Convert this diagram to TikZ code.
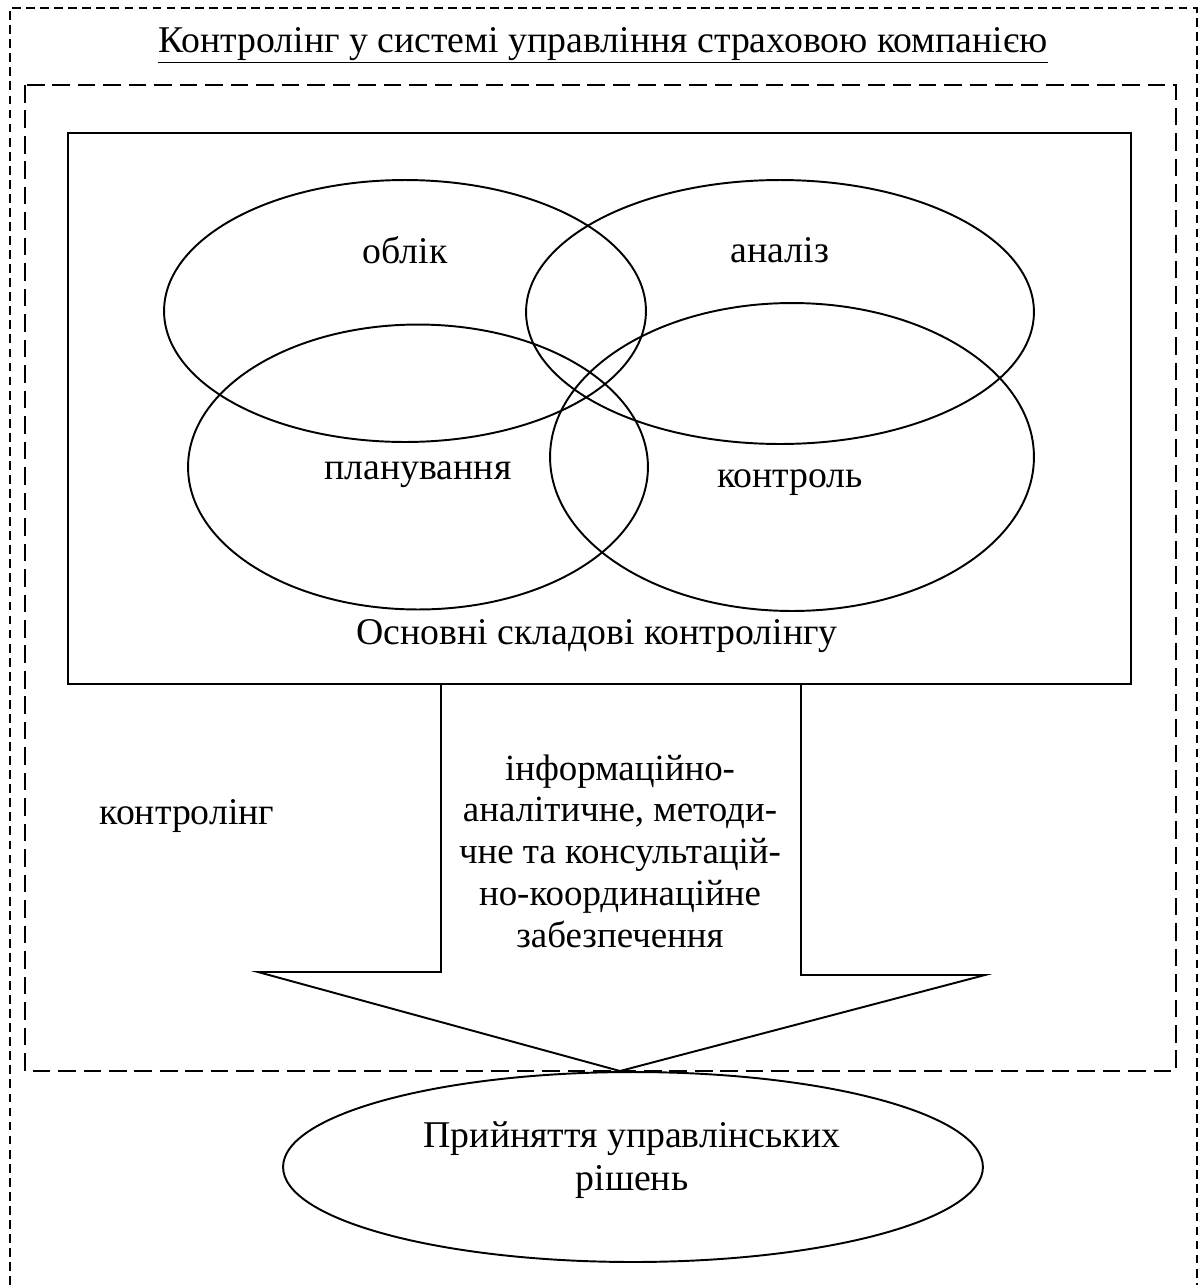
\documentclass[tikz,border=0pt]{standalone}
\usepackage{fontspec}
\setmainfont{Liberation Serif}
\usetikzlibrary{shapes.geometric, positioning}

\begin{document}
\begin{tikzpicture}[
    x=0.02cm, y=-0.02cm,
    font=\fontsize{21.5}{24.5}\selectfont,
    outerframe/.style={line width=1.1pt, dash pattern=on 5pt off 3pt},
    innerframe/.style={line width=1.1pt, dash pattern=on 10pt off 4.5pt},
    part/.style={draw, ellipse, line width=1.1pt, inner sep=0pt, outer sep=0pt},
    tag/.style={inner sep=0pt},
    line/.style={line width=1.1pt}
]
    \useasboundingbox (0,0) rectangle (1200,1285);

    % frames
    \draw[outerframe] (10,1285) -- (10,8) -- (1197,8) -- (1197,1285);
    \node[tag, anchor=base] (title) at (603,52) {\underline{Контролінг у системі управління страховою компанією}};
    \draw[innerframe] (25,85) rectangle (1176,1071);
    \draw[line] (68,133) rectangle (1131,684);

    % main components
    \node[part, minimum width=9.64cm, minimum height=5.24cm] (oblik) at (405,311) {};
    \node[part, minimum width=10.16cm, minimum height=5.28cm] (analiz) at (780,312) {};
    \node[part, minimum width=9.2cm, minimum height=5.7cm] (plan) at (418,467) {};
    \node[part, minimum width=9.68cm, minimum height=6.16cm] (kontrol) at (792,457) {};
    \node[tag] (oblikt) at (405,250) {облік};
    \node[tag] (analizt) at (780,250) {аналіз};
    \node[tag] (plant) at (418,475) {планування};
    \node[tag] (kontrolt) at (790,483) {контроль};
    \node[tag] (skladovi) at (597,636) {Основні складові контролінгу};
    \node[tag] (kontroling) at (187,816) {контролінг};

    % arrow
    \coordinate (tip) at (620,1071);
    \draw[line] (441,684) -- (441,972) -- (258,972) -- (tip) -- (985,975) -- (801,975) -- (801,684);
    \node[tag, align=center, font=\fontsize{21}{23.8}\selectfont] (zabezp) at (620,851) {інформаційно-\\аналітичне, методи-\\чне та консультацій-\\но-координаційне\\забезпечення};

    % decision
    \node[part, minimum width=14cm, minimum height=3.8cm] (rishennia) at (633,1167) {};
    \node[tag, align=center] (rishenniat) at (632,1160) {Прийняття управлінських\\рішень};
\end{tikzpicture}
\end{document}
